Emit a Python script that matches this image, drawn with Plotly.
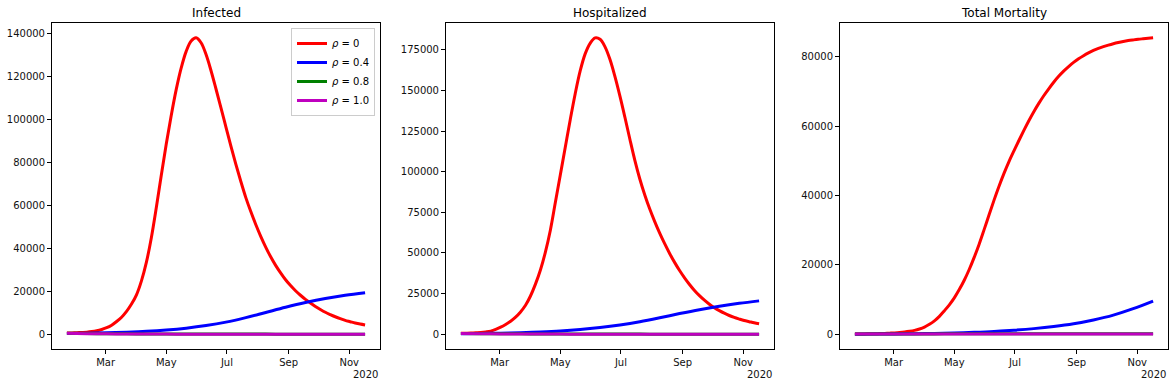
import pandas as pd
import plotly.graph_objects as go

# ---------------- data ----------------
START = "2020-01-22"

# day offsets from START (5-day grid for the rho = 0 curves)
DAYS_FINE = [0, 5, 10, 15, 20, 25, 30, 35, 40, 45, 50, 55, 60, 65, 70, 75, 80, 85, 90, 95,
             100, 105, 110, 115, 120, 125, 130, 135, 140, 145, 150, 155, 160, 165, 170, 175,
             180, 185, 190, 195, 200, 205, 210, 215, 220, 225, 230, 235, 240, 245, 250, 255,
             260, 265, 270, 275, 280, 285, 290, 295, 300]
# 20-day grid for the other curves
DAYS_COARSE = [0, 20, 40, 60, 80, 100, 120, 140, 160, 180, 200, 220, 240, 260, 280, 300]

# rho = 0 (red), on DAYS_FINE
INF_R0 = [500, 580, 680, 800, 950, 1200, 1600, 2200, 3000, 4200, 5900, 7900, 10600, 14000,
          18300, 24800, 33500, 45000, 59000, 74000, 88500, 101800, 113800, 123800, 131500,
          136300, 137800, 135500, 130000, 122500, 114000, 105200, 96300, 87400, 79000, 71000,
          63500, 57000, 51000, 45500, 40500, 36000, 32000, 28500, 25300, 22600, 20200, 18100,
          16200, 14500, 12900, 11500, 10200, 9100, 8100, 7200, 6400, 5800, 5200, 4700, 4300]
HOS_R0 = [500, 600, 700, 850, 1050, 1400, 1900, 2900, 4300, 6000, 8000, 10500, 13700, 17800,
          23500, 30800, 39500, 50500, 64000, 81000, 98000, 115000, 132000, 148000, 162000,
          172500, 179000, 182400, 181500, 176800, 169000, 158500, 146500, 133500, 120000,
          107000, 95500, 85700, 77000, 69300, 62200, 55700, 49700, 44200, 39200, 34700, 30600,
          26900, 23700, 20900, 18400, 16300, 14500, 12900, 11500, 10300, 9300, 8400, 7700,
          7000, 6400]
MOR_R0 = [100, 110, 130, 150, 180, 220, 270, 340, 420, 530, 680, 880, 1150, 1550, 2100, 2900,
          3900, 5200, 6800, 8500, 10500, 12900, 15600, 18700, 22200, 26000, 30200, 34500,
          38700, 42700, 46400, 49800, 52900, 55900, 58800, 61600, 64200, 66600, 68800, 70800,
          72700, 74400, 75900, 77200, 78400, 79450, 80350, 81150, 81850, 82450, 82950, 83400,
          83800, 84150, 84450, 84700, 84900, 85080, 85230, 85370, 85500]

# rho = 0.4 (blue), on DAYS_COARSE
INF_R04 = [300, 450, 650, 950, 1350, 1950, 2800, 4000, 5600, 7700, 10100, 12500, 14700,
           16600, 18100, 19300]
HOS_R04 = [300, 450, 650, 950, 1350, 1950, 2850, 4100, 5700, 7700, 10100, 12700, 15100,
           17200, 19000, 20500]
MOR_R04 = [50, 70, 110, 180, 280, 420, 600, 850, 1200, 1650, 2250, 3050, 4150, 5550, 7400,
           9600]

# rho = 0.8 (green), on DAYS_COARSE
INF_R08 = [400, 300, 220, 160, 120, 90, 70, 55, 45, 35, 30, 25, 20, 18, 15, 12]
HOS_R08 = [400, 320, 250, 190, 140, 100, 80, 60, 50, 40, 32, 26, 21, 18, 15, 12]
MOR_R08 = [100, 110, 120, 130, 138, 145, 150, 154, 157, 160, 162, 164, 165, 166, 167, 168]

# rho = 1.0 (magenta), on DAYS_COARSE
INF_R10 = [400, 250, 150, 90, 55, 35, 20, 12, 8, 5, 3, 2, 1, 1, 1, 0]
HOS_R10 = [400, 270, 170, 110, 70, 45, 28, 18, 12, 8, 5, 3, 2, 1, 1, 1]
MOR_R10 = [100, 105, 110, 113, 115, 116, 117, 117, 118, 118, 118, 118, 118, 118, 118, 118]

TITLES = ["Infected", "Hospitalized", "Total Mortality"]
SERIES_NAMES = ["<i>ρ</i> = 0", "<i>ρ</i> = 0.4", "<i>ρ</i> = 0.8", "<i>ρ</i> = 1.0"]
MONTH_TICKS = ["2020-03-01", "2020-05-01", "2020-07-01", "2020-09-01", "2020-11-01"]
MONTH_LABELS = ["Mar", "May", "Jul", "Sep", "Nov"]
Y_DTICK = [20000, 25000, 20000]
OFFSET_LABEL = "2020"

# ---------------- styling ----------------
COLORS = ["#ff0000", "#0000ff", "#008000", "#bf00bf"]
FONT = "DejaVu Sans"
W, H = 1175, 386
X_DOMAINS = [(52 / W, 380 / W), (446 / W, 774 / W), (840 / W, 1168 / W)]
Y_DOMAIN = (1 - 349 / H, 1 - 23 / H)

start = pd.Timestamp(START)
dates_fine = start + pd.to_timedelta(DAYS_FINE, unit="D")
dates_coarse = start + pd.to_timedelta(DAYS_COARSE, unit="D")
x_lo = dates_fine[0] - (dates_fine[-1] - dates_fine[0]) * 0.05
x_hi = dates_fine[-1] + (dates_fine[-1] - dates_fine[0]) * 0.05

panels = [
    (INF_R0, INF_R04, INF_R08, INF_R10),
    (HOS_R0, HOS_R04, HOS_R08, HOS_R10),
    (MOR_R0, MOR_R04, MOR_R08, MOR_R10),
]

fig = go.Figure()
annotations = []
for i, (r0, r04, r08, r10) in enumerate(panels):
    xa = "x" if i == 0 else f"x{i + 1}"
    ya = "y" if i == 0 else f"y{i + 1}"
    for j, (xs, ys) in enumerate([(dates_fine, r0), (dates_coarse, r04),
                                  (dates_coarse, r08), (dates_coarse, r10)]):
        fig.add_trace(go.Scatter(
            x=xs, y=ys, mode="lines", name=SERIES_NAMES[j],
            line=dict(color=COLORS[j], width=3, shape="spline", smoothing=1.0),
            showlegend=(i == 0), xaxis=xa, yaxis=ya,
        ))
    ymax = max(max(r0), max(r04), max(r08), max(r10))
    ymin = min(min(r0), min(r04), min(r08), min(r10))
    span = ymax - ymin
    axis_common = dict(
        showline=True, linecolor="black", linewidth=1, mirror=True,
        ticks="outside", ticklen=4, tickwidth=1, tickcolor="black",
        showgrid=False, zeroline=False,
        tickfont=dict(family=FONT, size=10, color="#111"),
    )
    fig.update_layout(**{
        ("xaxis" if i == 0 else f"xaxis{i + 1}"): dict(
            domain=X_DOMAINS[i], anchor=ya, type="date",
            range=[x_lo, x_hi], tickvals=MONTH_TICKS, ticktext=MONTH_LABELS,
            **axis_common),
        ("yaxis" if i == 0 else f"yaxis{i + 1}"): dict(
            domain=Y_DOMAIN, anchor=xa,
            range=[ymin - span * 0.05, ymax + span * 0.05],
            tick0=0, dtick=Y_DTICK[i], tickformat="d",
            **axis_common),
    })
    annotations.append(dict(
        text=TITLES[i], xref=f"{xa} domain", yref=f"{ya} domain", x=0.5, y=1,
        xanchor="center", yanchor="bottom", yshift=1, showarrow=False,
        font=dict(family=FONT, size=12, color="black")))
    annotations.append(dict(
        text=OFFSET_LABEL, xref=f"{xa} domain", yref=f"{ya} domain", x=1, y=0,
        xanchor="right", yanchor="top", yshift=-18, showarrow=False,
        font=dict(family=FONT, size=10, color="#111")))

fig.update_layout(
    width=W, height=H,
    margin=dict(l=0, r=0, t=0, b=0),
    paper_bgcolor="white", plot_bgcolor="white",
    font=dict(family=FONT, size=10, color="black"),
    annotations=annotations,
    legend=dict(
        x=375 / W, y=1 - 28 / H, xanchor="right", yanchor="top",
        bgcolor="white", bordercolor="#cccccc", borderwidth=1,
        font=dict(family=FONT, size=10, color="black"),
        itemwidth=30,
    ),
)

fig.write_html("out.html", config={"displayModeBar": False},
               post_script="document.body.style.margin='0px';")
